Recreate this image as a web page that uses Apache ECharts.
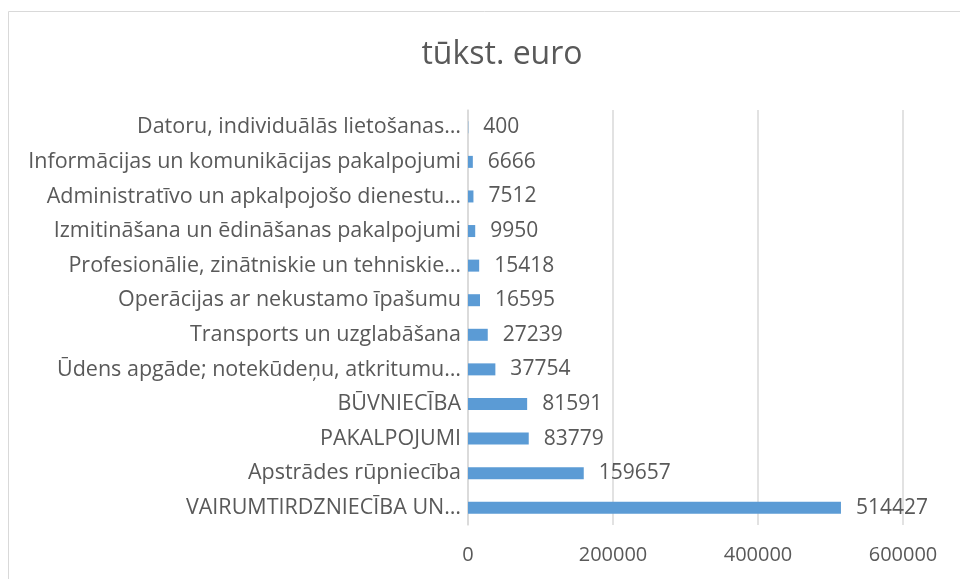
<!DOCTYPE html>
<html lang="lv">

<head>
    <meta charset="UTF-8">
    <title>tūkst. euro</title>
    <style>
        html, body {
            margin: 0;
            padding: 0;
            background: #fff;
        }

        #box {
            width: 960px;
            height: 579px;
        }
    </style>
    <script src="https://cdn.jsdelivr.net/npm/echarts@6/dist/echarts.min.js"></script>
</head>

<body>
    <div id="box"></div>
    <script>
        // nozares (no apakšas uz augšu)
        let categories = [
            'VAIRUMTIRDZNIECĪBA UN…',
            'Apstrādes rūpniecība',
            'PAKALPOJUMI',
            'BŪVNIECĪBA',
            'Ūdens apgāde; notekūdeņu, atkritumu…',
            'Transports un uzglabāšana',
            'Operācijas ar nekustamo īpašumu',
            'Profesionālie, zinātniskie un tehniskie…',
            'Izmitināšana un ēdināšanas pakalpojumi',
            'Administratīvo un apkalpojošo dienestu…',
            'Informācijas un komunikācijas pakalpojumi',
            'Datoru, individuālās lietošanas…'
        ];
        let values = [514427, 159657, 83779, 81591, 37754, 27239, 16595, 15418, 9950, 7512, 6666, 400];
        let xTicks = [0, 200000, 400000, 600000];

        (function () {
            let font = 'Open Sans';
            let textColor = '#595959';

            let option = {
                animation: false,
                title: {
                    text: 'tūkst. euro',
                    left: 497,
                    top: 34,
                    textAlign: 'center',
                    textStyle: {
                        fontFamily: font,
                        fontSize: 32,
                        fontWeight: 'normal',
                        color: textColor
                    }
                },
                graphic: [{
                    type: 'rect',
                    shape: { x: 8.5, y: 11.5, width: 1000, height: 700 },
                    style: { fill: 'none', stroke: '#d9d9d9', lineWidth: 1 },
                    silent: true
                }],
                grid: {
                    left: 468,
                    right: 57,
                    top: 110,
                    bottom: 54
                },
                xAxis: {
                    type: 'value',
                    min: xTicks[0],
                    max: xTicks[xTicks.length - 1],
                    interval: xTicks[1] - xTicks[0],
                    axisLine: { show: false },
                    axisTick: { show: false },
                    axisLabel: {
                        margin: 20,
                        fontFamily: font,
                        fontSize: 20,
                        color: textColor,
                        formatter: v => String(v)
                    },
                    splitLine: { lineStyle: { color: '#d9d9d9', width: 1.5 } }
                },
                yAxis: {
                    type: 'category',
                    data: categories,
                    axisLine: { show: true, lineStyle: { color: '#d9d9d9', width: 1.5 } },
                    axisTick: { show: false },
                    axisLabel: {
                        margin: 7,
                        fontFamily: font,
                        fontSize: 21.5,
                        color: textColor
                    }
                },
                series: [{
                    type: 'bar',
                    data: values,
                    barWidth: 12,
                    itemStyle: { color: '#5b9bd5' },
                    label: {
                        show: true,
                        position: 'right',
                        distance: 15,
                        fontFamily: font,
                        fontSize: 21,
                        color: textColor
                    }
                }]
            };

            let chart = echarts.init(box);
            chart.setOption(option);
        })();
    </script>
</body>

</html>
